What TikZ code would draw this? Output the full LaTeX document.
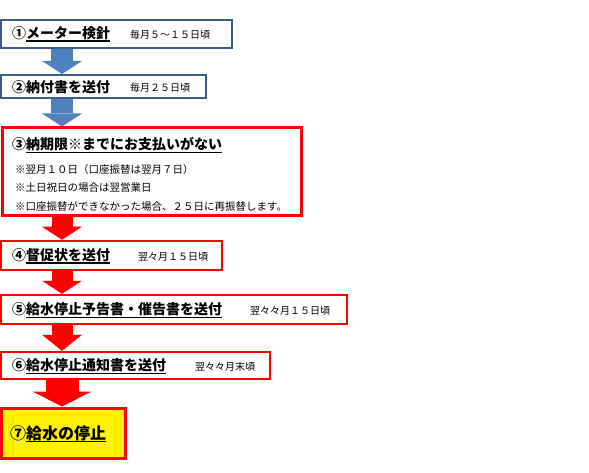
\documentclass[tikz,border=0pt]{standalone}
\usepackage{fontspec}
\setmainfont{Noto Sans CJK JP}
\usetikzlibrary{arrows.meta}
\definecolor{boxblue}{RGB}{56,93,138}
\definecolor{arrblue}{RGB}{79,129,189}
\newcommand\ul[1]{\setbox0=\hbox{#1}\rlap{\rule[-3.2pt]{\wd0}{1.1pt}}\box0}
\begin{document}
\begin{tikzpicture}[x=1pt,y=-1pt,
  bluebox/.style={draw=boxblue,line width=2pt,fill=white},
  redbox/.style={draw=red,line width=#1,fill=white},
  redbox/.default=2.5pt,
  ttl/.style={anchor=west,inner sep=0pt,font=\fontsize{14}{16}\selectfont\bfseries},
  when/.style={anchor=west,inner sep=0pt,font=\fontsize{10}{12}\selectfont},
  note/.style={anchor=west,inner sep=0pt,font=\fontsize{10.5}{12}\selectfont},
  bluearr/.style={draw=arrblue,line width=22pt,-{Triangle[width=40pt,length=13pt,line width=0pt]}},
  redarr/.style={draw=red,line width=21pt,-{Triangle[width=40pt,length=#1,line width=0pt]}},
  redarr/.default=13pt]
        \useasboundingbox (0,0) rectangle (589,473);
        \coordinate (ax) at (62,0);
        \node [bluebox,minimum width=231,minimum height=28] (b1) at (116.5,34) {};
        \node [bluebox,minimum width=205,minimum height=23] (b2) at (103.5,86.5) {};
        \node [redbox=3pt,minimum width=299,minimum height=88] (b3) at (151.5,172) {};
        \node [redbox,minimum width=221,minimum height=29] (b4) at (111.5,255.5) {};
        \node [redbox,minimum width=346,minimum height=29] (b5) at (174,309.5) {};
        \node [redbox,minimum width=269,minimum height=27] (b6) at (135.5,365.5) {};
        \node [redbox=3pt,fill=yellow,minimum width=124,minimum height=50] (b7) at (63,433) {};
        \draw [bluearr] (b1.south -| ax) -- (b2.north -| ax);
        \draw [bluearr] (b2.south -| ax) -- (b3.north -| ax);
        \draw [redarr] (b3.south -| ax) -- (b4.north -| ax);
        \draw [redarr] (b4.south -| ax) -- (b5.north -| ax);
        \draw [redarr=16pt] (b5.south -| ax) -- (b6.north -| ax);
        \draw [redarr=15pt,line width=33pt,-{Triangle[width=59pt,length=15pt,line width=0pt]}] (b6.south -| ax) -- (b7.north -| ax);
        \node [ttl] (t1) at (12,34) {①\ul{メーター検針}};
        \node [when] (d1) at (130,35) {毎月５～１５日頃};
        \node [ttl] (t2) at (12,87) {②納付書を送付};
        \node [when] (d2) at (130,88) {毎月２５日頃};
        \node [ttl] (t3) at (12,145) {③\ul{納期限※までにお支払いがない}};
        \node [note] (n1) at (15,170) {※翌月１０日（口座振替は翌月７日）};
        \node [note] (n2) at (15,188) {※土日祝日の場合は翌営業日};
        \node [note] (n3) at (15,206) {※口座振替ができなかった場合、２５日に再振替します。};
        \node [ttl] (t4) at (12,256) {④\ul{督促状を送付}};
        \node [when] (d4) at (138,257) {翌々月１５日頃};
        \node [ttl] (t5) at (12,310) {⑤\ul{給水停止予告書・催告書を送付}};
        \node [when] (d5) at (250,311) {翌々々月１５日頃};
        \node [ttl] (t6) at (12,366) {⑥\ul{給水停止通知書を送付}};
        \node [when] (d6) at (195,367) {翌々々月末頃};
        \node [ttl,font=\fontsize{16}{18}\selectfont\bfseries] (t7) at (10,434) {⑦\ul{給水の停止}};
    \end{tikzpicture}
\end{document}
